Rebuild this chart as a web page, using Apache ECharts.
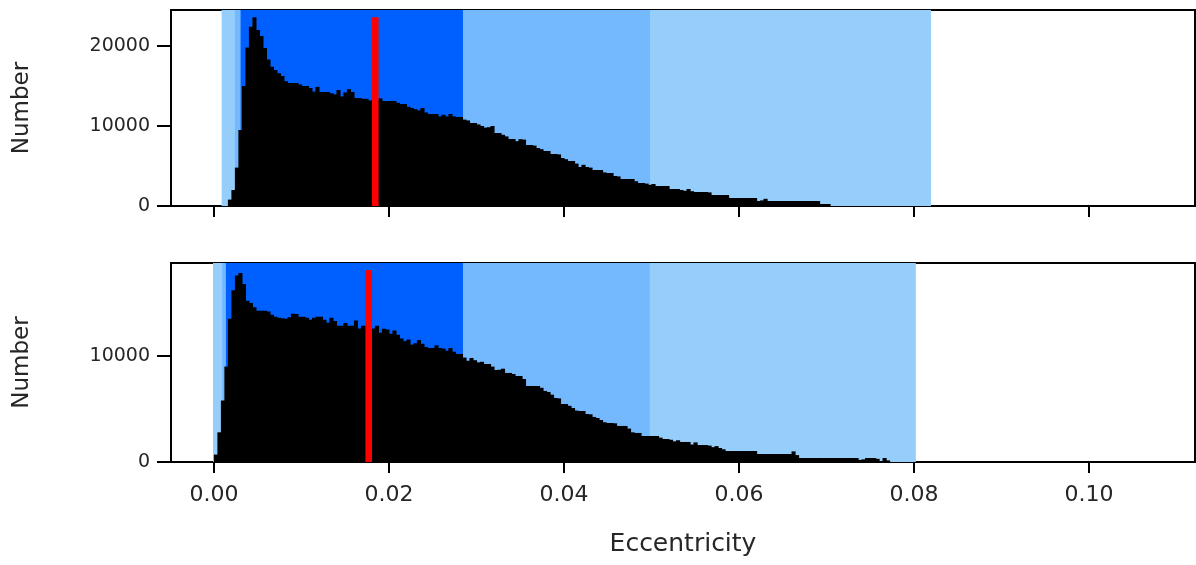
<!DOCTYPE html>
<html>
<head>
<meta charset="utf-8">
<script src="https://cdn.jsdelivr.net/npm/echarts@6/dist/echarts.min.js"></script>
<style>
  html, body { margin: 0; padding: 0; background: #fff; }
  #chart { width: 1196px; height: 565px; }
</style>
</head>
<body>
<div id="chart"></div>
<script>
// histogram bins (eccentricity), width 0.0004
const binWidth = 0.0004;
const topStart = 0.0016;
const topCounts = [
  800, 2000, 4800, 9500, 15000, 19800, 22400, 23600, 22000, 21250,
  19750, 18300, 17400, 17000, 16600, 16250, 15600, 15375, 15375, 15375,
  15200, 15000, 15000, 14750, 14300, 14900, 14250, 14250, 14250, 14100,
  13950, 14500, 13700, 14200, 14600, 14250, 13500, 13500, 13400, 13400,
  13200, 13125, 13125, 13450, 13125, 13125, 13125, 13125, 12900, 12750,
  12750, 12400, 12250, 12100, 11950, 12250, 11700, 11500, 11500, 11500,
  11200, 11400, 11200, 11500, 11200, 11125, 11125, 10800, 10700, 10375,
  10375, 10200, 10000, 9800, 9850, 10000, 9125, 9125, 8900, 8700,
  8375, 8375, 8100, 8350, 8300, 7625, 7625, 7550, 7250, 7100,
  6875, 6875, 6500, 6500, 6450, 6000, 5850, 5625, 5625, 5300,
  4875, 5150, 4875, 4800, 4500, 4500, 4500, 4200, 4125, 4125,
  3750, 3700, 3375, 3375, 3375, 3375, 3100, 2875, 2875, 2800,
  2650, 2750, 2500, 2500, 2500, 2500, 2125, 2125, 2125, 2000,
  1900, 2125, 1850, 1750, 1750, 1750, 1750, 1700, 1375, 1375,
  1375, 1375, 1375, 1000, 1000, 1000, 1000, 1000, 1000, 1000,
  1000, 625, 700, 900, 625, 625, 625, 625, 625, 625,
  625, 625, 625, 625, 625, 625, 625, 625, 625, 250,
  250, 250
];
const botStart = 0.0;
const botCounts = [
  700, 2800, 5800, 9000, 13500, 16200, 17580, 17830, 16800, 15200,
  15000, 14600, 14270, 14270, 14270, 14200, 13900, 13710, 13600, 13550,
  13500, 13650, 13990, 13950, 13710, 13710, 13600, 13420, 13600, 13710,
  13710, 13420, 13140, 13600, 13300, 12860, 12860, 13100, 12860, 12860,
  13350, 12600, 12860, 12860, 12800, 12600, 12860, 12200, 12580, 12500,
  12100, 12400, 12000, 11650, 11400, 11550, 11070, 11200, 11500, 11150,
  10850, 10750, 10750, 11000, 10750, 10700, 10500, 10750, 10400, 10190,
  10190, 9850, 9550, 9810, 9600, 9400, 9450, 9245, 9245, 9000,
  8680, 8700, 8800, 8400, 8400, 8300, 8110, 8110, 7830, 7170,
  7170, 7170, 7170, 7000, 6700, 6600, 6350, 6040, 6000, 5470,
  5470, 5300, 5090, 4850, 4810, 4810, 4530, 4500, 4250, 4150,
  3960, 3750, 3680, 3680, 3650, 3400, 3400, 3400, 3150, 2800,
  2740, 2740, 2450, 2450, 2450, 2450, 2450, 2300, 2170, 2170,
  2100, 1950, 2050, 1890, 1890, 1890, 1650, 1850, 1600, 1600,
  1600, 1550, 1400, 1500, 1320, 1200, 1040, 1040, 1040, 1040,
  1040, 1040, 1040, 1040, 1040, 755, 755, 755, 755, 755,
  755, 755, 755, 755, 755, 1000, 650, 377, 377, 377,
  377, 377, 377, 377, 377, 377, 377, 377, 377, 377,
  377, 377, 377, 377, 200, 250, 377, 377, 377, 300,
  94, 377, 150
];

// shaded intervals [lo, hi], widest first
const topBands = [[0.00088, 0.08194], [0.0024, 0.04983], [0.00305, 0.02846]];
const botBands = [[-0.0001, 0.0802], [0.00095, 0.0498], [0.00137, 0.02846]];
const bandColors = ['#96cefb', '#74b8fd', '#0060ff'];

// red marker: [position, height]
const topMarker = [0.01844, 23600];
const botMarker = [0.01769, 18100];

const xTicks = [0, 0.02, 0.04, 0.06, 0.08, 0.1];
const topYTicks = [0, 10000, 20000];
const botYTicks = [0, 10000];

const FONT = 'DejaVu Sans';
const TEXT = '#262626';

function toBins(start, counts) {
  return counts.map((c, i) => [start + i * binWidth, start + (i + 1) * binWidth, c]);
}

function renderHist(params, api) {
  const p0 = api.coord([api.value(0), api.value(2)]);
  const p1 = api.coord([api.value(1), 0]);
  return {
    type: 'rect',
    shape: { x: p0[0], y: p0[1], width: p1[0] - p0[0] + 0.6, height: p1[1] - p0[1] },
    style: { fill: '#000' },
  };
}

function renderBand(params, api) {
  const cs = params.coordSys;
  const a = api.coord([api.value(0), 0])[0];
  const b = api.coord([api.value(1), 0])[0];
  return {
    type: 'rect',
    shape: { x: a, y: cs.y, width: b - a, height: cs.height },
    style: { fill: bandColors[api.value(2)] },
  };
}

function renderMarker(params, api) {
  const top = api.coord([api.value(0), api.value(1)]);
  const bot = api.coord([api.value(0), 0]);
  return {
    type: 'rect',
    shape: { x: top[0] - 3.3, y: top[1], width: 6.6, height: bot[1] - top[1] },
    style: { fill: '#ff0000' },
  };
}

const grids = [
  { left: 171, top: 10, width: 1024, height: 196 },
  { left: 171, top: 263, width: 1024, height: 199 },
];

function xAxis(gridIndex, showLabels) {
  return {
    type: 'value',
    gridIndex,
    min: -0.0049,
    max: 0.1121,
    name: showLabels ? 'Eccentricity' : '',
    nameLocation: 'middle',
    nameGap: 70,
    nameTextStyle: { fontFamily: FONT, fontSize: 25, color: TEXT },
    axisLine: { show: true, onZero: false, lineStyle: { color: '#000', width: 2 } },
    axisTick: { show: true, length: 11, customValues: xTicks, lineStyle: { color: '#000', width: 2 } },
    axisLabel: {
      show: showLabels,
      customValues: xTicks,
      margin: 22,
      fontFamily: FONT,
      fontSize: 22,
      color: TEXT,
      formatter: (v) => v.toFixed(2),
    },
    splitLine: { show: false },
  };
}

function yAxis(gridIndex, max, ticks) {
  return {
    type: 'value',
    gridIndex,
    min: 0,
    max,
    name: 'Number',
    nameLocation: 'middle',
    nameGap: 137,
    nameTextStyle: { fontFamily: FONT, fontSize: 23, color: TEXT },
    axisLine: { show: true, onZero: false, lineStyle: { color: '#000', width: 2 } },
    axisTick: { show: true, length: 14, customValues: ticks, lineStyle: { color: '#000', width: 2 } },
    axisLabel: {
      customValues: ticks,
      margin: 21,
      fontFamily: FONT,
      fontSize: 19,
      color: TEXT,
      formatter: (v) => String(v),
    },
    splitLine: { show: false },
  };
}

function panelSeries(idx, start, counts, bands, marker) {
  return [
    {
      type: 'custom',
      xAxisIndex: idx,
      yAxisIndex: idx,
      renderItem: renderBand,
      data: bands.map((b, i) => [b[0], b[1], i]),
      clip: true,
      silent: true,
      z: 1,
    },
    {
      type: 'custom',
      xAxisIndex: idx,
      yAxisIndex: idx,
      renderItem: renderHist,
      data: toBins(start, counts),
      clip: true,
      silent: true,
      z: 2,
    },
    {
      type: 'custom',
      xAxisIndex: idx,
      yAxisIndex: idx,
      renderItem: renderMarker,
      data: [marker],
      clip: true,
      silent: true,
      z: 3,
    },
  ];
}

const chart = echarts.init(document.getElementById('chart'), null, { renderer: 'canvas' });
chart.setOption({
  animation: false,
  backgroundColor: '#fff',
  grid: grids.map((g) => Object.assign({ show: true, borderColor: '#000', borderWidth: 2 }, g)),
  xAxis: [xAxis(0, false), xAxis(1, true)],
  yAxis: [yAxis(0, 24500, topYTicks), yAxis(1, 18770, botYTicks)],
  series: [
    ...panelSeries(0, topStart, topCounts, topBands, topMarker),
    ...panelSeries(1, botStart, botCounts, botBands, botMarker),
  ],
});
</script>
</body>
</html>
